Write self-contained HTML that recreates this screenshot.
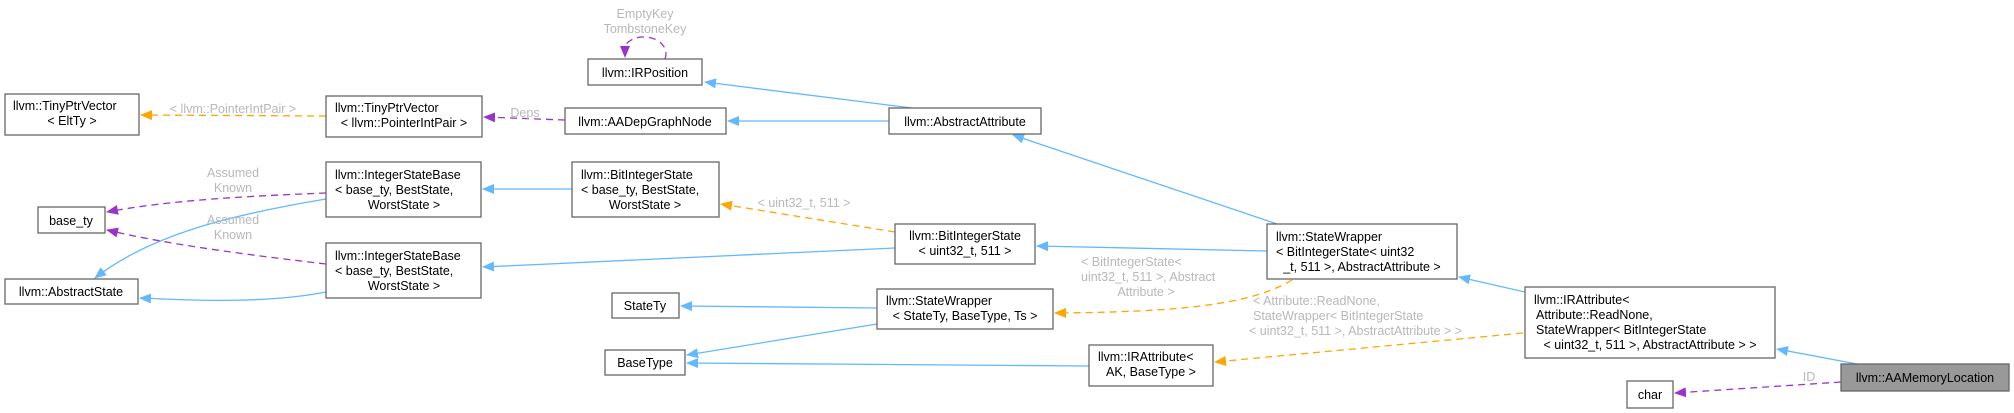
<!DOCTYPE html>
<html><head><meta charset="utf-8"><style>
html,body{margin:0;padding:0;background:#fff;}
svg{display:block;}
text{font-family:"Liberation Sans",Arial,sans-serif;font-size:12.5px;fill:#000;}
.l{fill:#b8b8b8;}
.b{fill:#fff;stroke:#666;stroke-width:1.3;}
.bl{stroke:#63b8ff;stroke-width:1.3;fill:none;}
.pu{stroke:#9a32cd;stroke-width:1.3;fill:none;stroke-dasharray:7,5;}
.or{stroke:#ffa500;stroke-width:1.3;fill:none;stroke-dasharray:7,5;}
</style></head><body>
<svg width="2014" height="413" viewBox="0 0 2014 413" xmlns="http://www.w3.org/2000/svg">
<defs>
<marker id="ab" markerWidth="12" markerHeight="10" refX="11" refY="5" orient="auto" markerUnits="userSpaceOnUse"><path d="M0,0 L12,5 L0,10 z" fill="#63b8ff"/></marker>
<marker id="ap" markerWidth="12" markerHeight="10" refX="11" refY="5" orient="auto" markerUnits="userSpaceOnUse"><path d="M0,0 L12,5 L0,10 z" fill="#9a32cd"/></marker>
<marker id="ao" markerWidth="12" markerHeight="10" refX="11" refY="5" orient="auto" markerUnits="userSpaceOnUse"><path d="M0,0 L12,5 L0,10 z" fill="#ffa500"/></marker>
</defs>

<!-- edges -->
<path class="pu" d="M665,59 C672,40 640,28 625,45 L625,57" marker-end="url(#ap)"/>
<text class="l" x="645" y="18" text-anchor="middle">EmptyKey</text>
<text class="l" x="645" y="33" text-anchor="middle">TombstoneKey</text>
<path class="bl" d="M912,108 L705,82" marker-end="url(#ab)"/>
<path class="bl" d="M889,121 L728,121" marker-end="url(#ab)"/>
<path class="pu" d="M565,120 L484,117" marker-end="url(#ap)"/>
<text class="l" x="525" y="117" text-anchor="middle">Deps</text>
<path class="or" d="M326,116 L141,115" marker-end="url(#ao)"/>
<text class="l" x="233" y="113" text-anchor="middle">&lt; llvm::PointerIntPair &gt;</text>
<path class="bl" d="M572,189 L483,189" marker-end="url(#ab)"/>
<path class="pu" d="M326,193 C250,196 170,200 107,212" marker-end="url(#ap)"/>
<text class="l" x="233" y="177" text-anchor="middle">Assumed</text>
<text class="l" x="233" y="192" text-anchor="middle">Known</text>
<path class="bl" d="M326,199 C230,215 150,235 95,278" marker-end="url(#ab)"/>
<path class="pu" d="M326,264 C250,255 170,245 107,230" marker-end="url(#ap)"/>
<text class="l" x="233" y="224" text-anchor="middle">Assumed</text>
<text class="l" x="233" y="239" text-anchor="middle">Known</text>
<path class="bl" d="M326,292 C270,303 200,301 140,298" marker-end="url(#ab)"/>
<path class="bl" d="M895,248 L483,267" marker-end="url(#ab)"/>
<path class="or" d="M895,232 L721,204" marker-end="url(#ao)"/>
<text class="l" x="804" y="207" text-anchor="middle">&lt; uint32_t, 511 &gt;</text>
<path class="bl" d="M1267,251 L1037,246" marker-end="url(#ab)"/>
<path class="bl" d="M1277,224 L1013,135" marker-end="url(#ab)"/>
<path class="or" d="M1292,280 C1250,305 1180,312 1055,313" marker-end="url(#ao)"/>
<text class="l" x="1081" y="266">&lt; BitIntegerState&lt;</text>
<text class="l" x="1081" y="281">uint32_t, 511 &gt;, Abstract</text>
<text class="l" x="1146" y="296" text-anchor="middle">Attribute &gt;</text>
<path class="bl" d="M877,308 L681,306" marker-end="url(#ab)"/>
<path class="bl" d="M877,324 L687,355" marker-end="url(#ab)"/>
<path class="bl" d="M1089,366 L687,363" marker-end="url(#ab)"/>
<path class="or" d="M1523,333 L1215,362" marker-end="url(#ao)"/>
<text class="l" x="1253" y="305">&lt; Attribute::ReadNone,</text>
<text class="l" x="1253" y="320">StateWrapper&lt; BitIntegerState</text>
<text class="l" x="1249" y="335">&lt; uint32_t, 511 &gt;, AbstractAttribute &gt; &gt;</text>
<path class="bl" d="M1525,292 L1459,277" marker-end="url(#ab)"/>
<path class="bl" d="M1857,364 L1777,349" marker-end="url(#ab)"/>
<path class="pu" d="M1841,382 L1675,393" marker-end="url(#ap)"/>
<text class="l" x="1809" y="381" text-anchor="middle">ID</text>

<!-- nodes -->
<rect class="b" x="588" y="59" width="114" height="26"/>
<text x="645" y="77" text-anchor="middle">llvm::IRPosition</text>

<rect class="b" x="5" y="94" width="134" height="41"/>
<text x="13" y="110">llvm::TinyPtrVector</text>
<text x="72" y="125" text-anchor="middle">&lt; EltTy &gt;</text>

<rect class="b" x="326" y="96" width="156" height="41"/>
<text x="335" y="112">llvm::TinyPtrVector</text>
<text x="404" y="127" text-anchor="middle">&lt; llvm::PointerIntPair &gt;</text>

<rect class="b" x="565" y="108" width="161" height="26"/>
<text x="645" y="126" text-anchor="middle">llvm::AADepGraphNode</text>

<rect class="b" x="889" y="108" width="152" height="26"/>
<text x="965" y="126" text-anchor="middle">llvm::AbstractAttribute</text>

<rect class="b" x="326" y="162" width="155" height="55"/>
<text x="335" y="179">llvm::IntegerStateBase</text>
<text x="335" y="194">&lt; base_ty, BestState,</text>
<text x="404" y="209" text-anchor="middle">WorstState &gt;</text>

<rect class="b" x="572" y="162" width="147" height="55"/>
<text x="581" y="179">llvm::BitIntegerState</text>
<text x="581" y="194">&lt; base_ty, BestState,</text>
<text x="645" y="209" text-anchor="middle">WorstState &gt;</text>

<rect class="b" x="38" y="207" width="67" height="26"/>
<text x="71" y="225" text-anchor="middle">base_ty</text>

<rect class="b" x="326" y="243" width="155" height="55"/>
<text x="335" y="260">llvm::IntegerStateBase</text>
<text x="335" y="275">&lt; base_ty, BestState,</text>
<text x="404" y="290" text-anchor="middle">WorstState &gt;</text>

<rect class="b" x="5" y="279" width="133" height="25"/>
<text x="71" y="296" text-anchor="middle">llvm::AbstractState</text>

<rect class="b" x="895" y="224" width="140" height="40"/>
<text x="965" y="240" text-anchor="middle">llvm::BitIntegerState</text>
<text x="965" y="255" text-anchor="middle">&lt; uint32_t, 511 &gt;</text>

<rect class="b" x="1267" y="224" width="190" height="55"/>
<text x="1276" y="241">llvm::StateWrapper</text>
<text x="1276" y="256">&lt; BitIntegerState&lt; uint32</text>
<text x="1362" y="271" text-anchor="middle">_t, 511 &gt;, AbstractAttribute &gt;</text>

<rect class="b" x="612" y="293" width="67" height="25"/>
<text x="645" y="310" text-anchor="middle">StateTy</text>

<rect class="b" x="877" y="289" width="176" height="40"/>
<text x="886" y="305">llvm::StateWrapper</text>
<text x="965" y="320" text-anchor="middle">&lt; StateTy, BaseType, Ts &gt;</text>

<rect class="b" x="605" y="350" width="80" height="25"/>
<text x="645" y="367" text-anchor="middle">BaseType</text>

<rect class="b" x="1089" y="345" width="124" height="41"/>
<text x="1098" y="361">llvm::IRAttribute&lt;</text>
<text x="1151" y="376" text-anchor="middle">AK, BaseType &gt;</text>

<rect class="b" x="1525" y="287" width="250" height="71"/>
<text x="1534" y="304">llvm::IRAttribute&lt;</text>
<text x="1536" y="319">Attribute::ReadNone,</text>
<text x="1536" y="334">StateWrapper&lt; BitIntegerState</text>
<text x="1650" y="349" text-anchor="middle">&lt; uint32_t, 511 &gt;, AbstractAttribute &gt; &gt;</text>

<rect class="b" x="1627" y="381" width="46" height="27"/>
<text x="1650" y="399" text-anchor="middle">char</text>

<rect x="1841" y="364" width="168" height="27" fill="#999" stroke="#666" stroke-width="1.3"/>
<text x="1925" y="382" text-anchor="middle">llvm::AAMemoryLocation</text>
</svg>
</body></html>
